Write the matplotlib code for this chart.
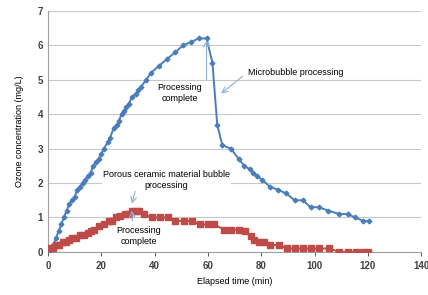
import matplotlib
matplotlib.use("Agg")
import matplotlib.pyplot as plt

# 마이크로버블 처리 (blue)
t_micro = [0.5, 2, 3, 4, 5, 6, 7, 8, 9, 10, 11, 12, 13, 14, 15, 16, 17, 18, 19, 20,
           21, 22.5, 23.2, 24.7, 25.9, 26.6, 27.6, 28.5, 29.4, 30.3, 31.5, 33, 33.8,
           34.9, 36.9, 38.6, 41.6, 44.6, 47.8, 50.7, 53.8, 56.5, 59.5, 61.7, 63.5,
           65.4, 68.6, 71.6, 73.6, 75.7, 77, 78.6, 80.3, 83.2, 86.3, 89.4, 92.5, 95.6,
           98.5, 101.5, 105.2, 109.3, 112.4, 115.3, 118.3, 120.5]
v_micro = [0.0, 0.2, 0.4, 0.6, 0.8, 1.0, 1.2, 1.4, 1.5, 1.6, 1.8, 1.9, 2.0, 2.1, 2.2,
           2.3, 2.5, 2.6, 2.7, 2.85, 3.0, 3.2, 3.3, 3.6, 3.7, 3.8, 4.0, 4.1, 4.2, 4.3,
           4.5, 4.6, 4.7, 4.8, 5.0, 5.2, 5.4, 5.6, 5.8, 6.0, 6.1, 6.2, 6.2, 5.5, 3.7,
           3.1, 3.0, 2.7, 2.5, 2.4, 2.3, 2.2, 2.1, 1.9, 1.8, 1.7, 1.5, 1.5, 1.3, 1.3,
           1.2, 1.1, 1.1, 1.0, 0.9, 0.9]

# 다공질 세라믹 처리 (red)
t_ceramic = [0.5, 2, 3, 4.2, 5.5, 6.7, 8, 9, 10.4, 12, 13.5, 15, 16, 17.3, 19.1, 21,
             22.9, 24, 25.4, 27, 29, 30.5, 31.6, 33, 34, 36, 39, 42, 45, 47.8, 50.9,
             54, 57, 60.2, 62.3, 66, 68.8, 71.6, 73.9, 76, 77.2, 79.1, 80.9, 83.4,
             86.6, 89.7, 92.5, 95.5, 98.6, 101.5, 105.5, 109.3, 112.4, 115.5, 118.3,
             120.1]
v_ceramic = [0.1, 0.1, 0.2, 0.2, 0.3, 0.3, 0.35, 0.4, 0.4, 0.5, 0.5, 0.55, 0.6, 0.65,
             0.75, 0.8, 0.9, 0.9, 1.0, 1.05, 1.1, 1.1, 1.2, 1.2, 1.2, 1.1, 1.0, 1.0,
             1.0, 0.9, 0.9, 0.9, 0.8, 0.8, 0.8, 0.65, 0.65, 0.65, 0.6, 0.45, 0.35, 0.3,
             0.3, 0.2, 0.2, 0.1, 0.1, 0.1, 0.1, 0.1, 0.1, 0.0, 0.0, 0.0, 0.0, 0.0]

x_ticks = [0, 20, 40, 60, 80, 100, 120, 140]
y_ticks = [0, 1, 2, 3, 4, 5, 6, 7]

BLUE = "#4a7ebb"
RED = "#be4b48"
ARROW = "#8eaed6"

plt.rcParams["font.family"] = ["Liberation Sans", "DejaVu Sans"]

fig = plt.figure(figsize=(4.28, 2.95), dpi=100)
ax = fig.add_axes([0.112, 0.146, 0.872, 0.817])

ax.plot(t_micro, v_micro, color=BLUE, lw=1.4, marker="D", ms=2.4, zorder=3)
ax.plot(t_ceramic, v_ceramic, color=RED, lw=1.4, marker="s", ms=4.6, zorder=3)

ax.set_xlim(0, 140)
ax.set_ylim(0, 7)
ax.set_xticks(x_ticks)
ax.set_yticks(y_ticks)
ax.tick_params(labelsize=7, colors="#404040", length=3, width=0.6)
ax.tick_params(axis="y", length=0)
for lab in ax.get_xticklabels() + ax.get_yticklabels():
    lab.set_fontweight("bold")
ax.grid(axis="y", color="#c8c8c8", lw=0.8)
ax.set_axisbelow(True)
for s in ["top", "right"]:
    ax.spines[s].set_visible(False)
for s in ["left", "bottom"]:
    ax.spines[s].set_color("#a0a0a0")
    ax.spines[s].set_linewidth(0.8)

ax.set_xlabel("Elapsed time (min)", fontsize=6.5, labelpad=4)
ax.set_ylabel("Ozone concentration (mg/L)", fontsize=6.5, labelpad=10)

arrow = dict(arrowstyle="->", color=ARROW, lw=0.8, shrinkA=0, shrinkB=0)
box = dict(facecolor="white", edgecolor="none", pad=0.5)

# 처리 완료 (microbubble)
ax.annotate("", xy=(59.5, 6.15), xytext=(59.5, 5.0), arrowprops=arrow)
ax.text(49.5, 4.62, "Processing\ncomplete", fontsize=6.5, ha="center", va="center",
        linespacing=1.3, bbox=box)
ax.annotate("", xy=(65, 4.6), xytext=(73, 5.1), arrowprops=arrow)
ax.text(75, 5.2, "Microbubble processing", fontsize=6.5, ha="left", va="center")

# 처리 완료 (porous ceramic)
ax.annotate("", xy=(31.5, 1.4), xytext=(33.2, 1.9), arrowprops=arrow)
ax.text(44.5, 2.08, "Porous ceramic material bubble\nprocessing", fontsize=6.5,
        ha="center", va="center", linespacing=1.3, bbox=box)
ax.annotate("", xy=(31.6, 1.2), xytext=(31.6, 0.9), arrowprops=arrow)
ax.text(34, 0.45, "Processing\ncomplete", fontsize=6.5, ha="center", va="center",
        linespacing=1.3, bbox=box)

fig.savefig("out.png", dpi=100)
